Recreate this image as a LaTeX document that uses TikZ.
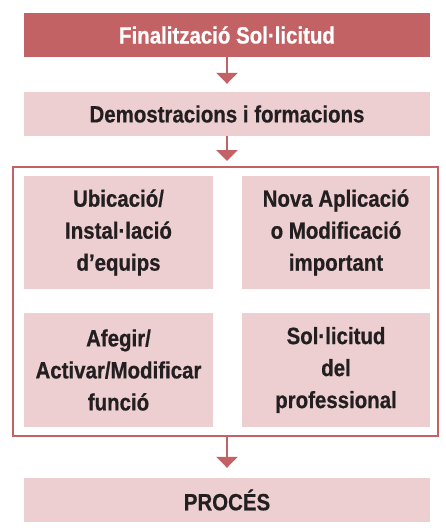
\documentclass[tikz,border=0pt]{standalone}
\usepackage{fontspec}
\setmainfont{Liberation Sans}[FakeStretch=0.87,BoldFeatures={FakeBold=0.6}]
\usetikzlibrary{arrows.meta}
\definecolor{fosc}{RGB}{194,98,101}
\definecolor{clar}{RGB}{237,207,209}
\definecolor{lletra}{RGB}{35,31,32}
\tikzset{
  caixa/.style={rectangle,fill=clar,text=lletra,align=center,inner sep=0pt,
    font=\fontsize{23.5}{32}\selectfont\bfseries},
  fletxa/.style={-{Triangle[width=21pt,length=11pt]},draw=fosc,fill=fosc,line width=2.2pt}
}
\begin{document}
\begin{tikzpicture}[x=1pt,y=-1pt]
  \useasboundingbox (0,0) rectangle (445,528);
  \draw
    (227,35) node[caixa,fill=fosc,text=white,minimum width=406pt,minimum height=44pt] (inici){Finalització Sol·licitud}
    (227,114) node[caixa,minimum width=406pt,minimum height=44pt] (demo){Demostracions i formacions}
    (225.5,301.5) node[draw=fosc,line width=2pt,minimum width=425pt,minimum height=269pt] (marc){}
    (118.5,232.5) node[caixa,minimum width=189pt,minimum height=113pt] (ubicacio){Ubicació/\\Instal·lació\\d’equips}
    (336,232.5) node[caixa,minimum width=188pt,minimum height=113pt] (nova){Nova Aplicació\\o Modificació\\important}
    (118.5,370) node[caixa,minimum width=189pt,minimum height=114pt] (afegir){Afegir/\\Activar/Modificar\\funció}
    (336,370) node[caixa,minimum width=188pt,minimum height=114pt] (professional){Sol·licitud\\del\\professional}
    (227,500) node[caixa,minimum width=406pt,minimum height=44pt] (proces){PROCÉS};
  \begin{scope}[fletxa]
    \draw[shorten >=8pt] (inici) to (demo);
    \draw[shorten >=5pt] (demo.south) to (demo.south |- marc.north);
    \draw[shorten >=10pt] (proces.north |- marc.south) to (proces.north);
  \end{scope}
\end{tikzpicture}
\end{document}
